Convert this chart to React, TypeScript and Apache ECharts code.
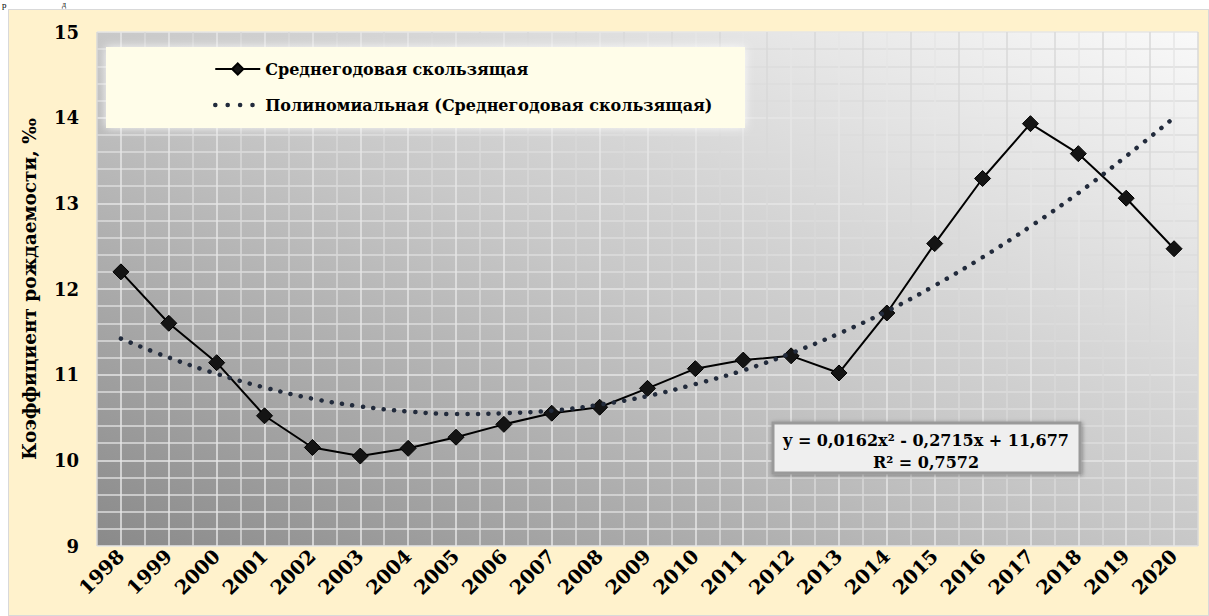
import React, { useEffect, useRef } from "react";
import * as echarts from "echarts";

const years = ["1998","1999","2000","2001","2002","2003","2004","2005","2006","2007","2008","2009","2010","2011","2012","2013","2014","2015","2016","2017","2018","2019","2020"];
const movingAverage = [12.2, 11.6, 11.14, 10.52, 10.15, 10.05, 10.14, 10.27, 10.42, 10.55, 10.62, 10.84, 11.07, 11.17, 11.22, 11.02, 11.72, 12.53, 13.29, 13.93, 13.58, 13.06, 12.47];
const trendValues = [11.42, 11.2, 11.01, 10.85, 10.72, 10.63, 10.57, 10.54, 10.55, 10.58, 10.65, 10.75, 10.89, 11.05, 11.25, 11.48, 11.74, 12.04, 12.37, 12.73, 13.12, 13.55, 14.0];
const seriesNames = ["Среднегодовая скользящая", "Полиномиальная (Среднегодовая скользящая)"];
const yAxisTitle = "Коэффициент рождаемости, ‰";
const equationLines = ["y = 0,0162x² - 0,2715x + 11,677", "R² = 0,7572"];
const yMin = 9;
const yMax = 15;

const FONT = "DejaVu Serif";

export default function App() {
  const ref = useRef<HTMLDivElement>(null);
  useEffect(() => {
    const chart = echarts.init(ref.current!, null, { renderer: "svg" });
    const option: any = {
      animation: false,
      backgroundColor: "transparent",
      grid: {
        left: 97,
        right: 11,
        top: 32,
        bottom: 70,
        show: true,
        borderWidth: 0,
        backgroundColor: new echarts.graphic.LinearGradient(0, 1, 1, 0, [
          { offset: 0, color: "#8a8a8a" },
          { offset: 0.5, color: "#c8c8c8" },
          { offset: 1, color: "#f9f9f9" },
        ]),
      },
      xAxis: [
        {
          type: "category",
          data: years,
          boundaryGap: true,
          axisLine: { show: false },
          axisTick: { show: false },
          splitLine: { show: false },
          axisLabel: {
            rotate: 45,
            margin: 7,
            interval: 0,
            color: "#000",
            fontFamily: FONT,
            fontWeight: "bold",
            fontSize: 19.5,
          },
        },
        {
          type: "value",
          min: 0,
          max: 46,
          interval: 1,
          position: "top",
          axisLine: { show: false },
          axisTick: { show: false },
          axisLabel: { show: false },
          splitLine: {
            show: true,
            lineStyle: { color: ["#d9d9d9", "#e6e6e6"], width: 1.5 },
          },
        },
      ],
      yAxis: {
        type: "value",
        min: yMin,
        max: yMax,
        interval: 1,
        name: yAxisTitle,
        nameLocation: "middle",
        nameGap: 58,
        nameTextStyle: { color: "#000", fontFamily: FONT, fontWeight: "bold", fontSize: 18.5 },
        axisLine: { show: false },
        axisTick: { show: false },
        minorTick: { show: false, splitNumber: 5 },
        axisLabel: { color: "#000", fontFamily: FONT, fontWeight: "bold", fontSize: 18, margin: 18 },
        splitLine: { show: true, lineStyle: { color: "#e6e6e6", width: 1.5 } },
        minorSplitLine: { show: true, lineStyle: { color: "#dcdcdc", width: 1.5 } },
      },
      legend: {
        orient: "vertical",
        left: 213,
        top: 61,
        padding: 0,
        itemGap: 20,
        itemWidth: 45,
        itemHeight: 14,
        z: 10,
        textStyle: { color: "#000", fontFamily: FONT, fontWeight: "bold", fontSize: 16 },
        data: [
          { name: seriesNames[0] },
          {
            name: seriesNames[1],
            itemStyle: { opacity: 0, color: "transparent", borderWidth: 0 },
            lineStyle: { color: "#222b3c", width: 4.5, type: [0.1, 12.3], cap: "round", opacity: 1 },
          },
        ],
      },
      graphic: [
        {
          type: "rect",
          z: 8,
          shape: { x: 106, y: 47, width: 639, height: 81 },
          style: { fill: "#fffde9", shadowBlur: 10, shadowColor: "rgba(255,255,255,0.9)" },
        },
        {
          type: "rect",
          z: 8,
          shape: { x: 773, y: 423, width: 307, height: 50 },
          style: {
            fill: "#efefef",
            stroke: "#9a9a9a",
            lineWidth: 3,
            shadowBlur: 4,
            shadowColor: "rgba(0,0,0,0.35)",
            shadowOffsetX: 1,
            shadowOffsetY: 1,
          },
        },
        {
          type: "text",
          z: 9,
          x: 926,
          y: 440,
          style: {
            text: equationLines[0],
            fill: "#000",
            fontFamily: FONT,
            fontWeight: "bold",
            fontSize: 16,
            align: "center",
            verticalAlign: "middle",
          },
        },
        {
          type: "text",
          z: 9,
          x: 926,
          y: 462,
          style: {
            text: equationLines[1],
            fill: "#000",
            fontFamily: FONT,
            fontWeight: "bold",
            fontSize: 16,
            align: "center",
            verticalAlign: "middle",
          },
        },
        {
          type: "text",
          z: 9,
          x: 2,
          y: 0,
          style: { text: "р", fill: "#000", fontFamily: "Liberation Serif", fontSize: 9, verticalAlign: "top" },
        },
        {
          type: "text",
          z: 9,
          x: 62,
          y: 0,
          style: { text: "д", fill: "#000", fontFamily: "Liberation Serif", fontSize: 8, verticalAlign: "top" },
        },
      ],
      series: [
        {
          name: seriesNames[0],
          type: "line",
          data: movingAverage,
          xAxisIndex: 0,
          symbol: "diamond",
          symbolSize: 16,
          z: 4,
          lineStyle: { color: "#000", width: 2 },
          itemStyle: { color: "#141414", borderColor: "#000", borderWidth: 1 },
        },
        {
          name: seriesNames[1],
          type: "line",
          data: trendValues,
          xAxisIndex: 0,
          smooth: 0.4,
          showSymbol: false,
          symbol: "none",
          z: 5,
          lineStyle: { color: "#222b3c", width: 4.5, type: [0.1, 10.4], cap: "round" },
          itemStyle: { color: "#222b3c" },
        },
      ],
    };
    chart.setOption(option);
    return () => chart.dispose();
  }, []);
  return (
    <div style={{ position: "absolute", left: 0, top: 0, width: 1209, height: 616, background: "#fff", overflow: "hidden" }}>
      <div
        style={{
          position: "absolute",
          left: 8,
          top: 9,
          width: 1201,
          height: 607,
          background: "#fff2cc",
          border: "1px solid #d9d9d9",
          boxSizing: "border-box",
        }}
      />
      <div ref={ref} style={{ position: "absolute", left: 0, top: 0, width: 1209, height: 616 }} />
    </div>
  );
}
